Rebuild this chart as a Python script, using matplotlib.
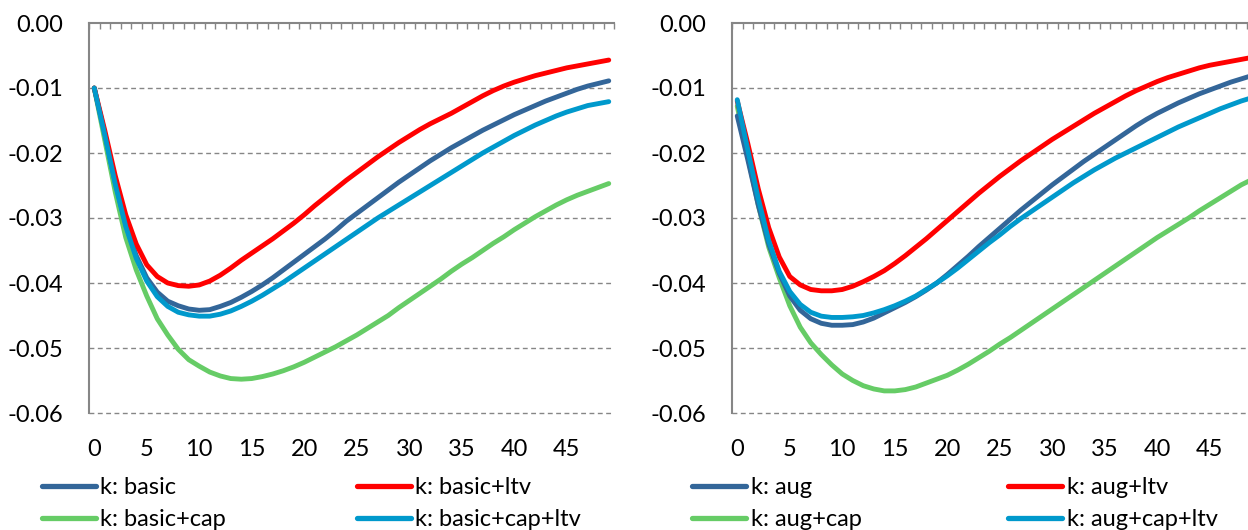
import numpy as np
import matplotlib
matplotlib.use("Agg")
import matplotlib.pyplot as plt
from matplotlib.lines import Line2D

plt.rcParams['font.family'] = ['Lato', 'DejaVu Sans']

# Horizon (periods)
periods = list(range(50))

# Left panel: basic model variants
basic = [-0.0100, -0.0170, -0.0245, -0.0310, -0.0358, -0.0392, -0.0414, -0.0428, -0.0435, -0.0440,
         -0.0442, -0.0441, -0.0436, -0.0430, -0.0422, -0.0413, -0.0403, -0.0392, -0.0380, -0.0368,
         -0.0356, -0.0344, -0.0332, -0.0319, -0.0305, -0.0293, -0.0281, -0.0269, -0.0257, -0.0245,
         -0.0234, -0.0223, -0.0212, -0.0202, -0.0192, -0.0183, -0.0174, -0.0165, -0.0157, -0.0149,
         -0.0141, -0.0134, -0.0127, -0.0120, -0.0114, -0.0108, -0.0102, -0.0097, -0.0093, -0.0089]
basic_ltv = [-0.0100, -0.0165, -0.0235, -0.0295, -0.0340, -0.0372, -0.0390, -0.0400, -0.0404, -0.0405,
             -0.0403, -0.0397, -0.0388, -0.0377, -0.0365, -0.0354, -0.0343, -0.0332, -0.0320, -0.0308,
             -0.0295, -0.0281, -0.0268, -0.0255, -0.0242, -0.0230, -0.0218, -0.0206, -0.0195, -0.0184,
             -0.0174, -0.0164, -0.0155, -0.0147, -0.0139, -0.0130, -0.0121, -0.0112, -0.0104, -0.0097,
             -0.0091, -0.0086, -0.0081, -0.0077, -0.0073, -0.0069, -0.0066, -0.0063, -0.0060, -0.0057]
basic_cap = [-0.0100, -0.0180, -0.0260, -0.0330, -0.0380, -0.0420, -0.0455, -0.0480, -0.0502, -0.0518,
             -0.0528, -0.0537, -0.0543, -0.0547, -0.0548, -0.0547, -0.0544, -0.0540, -0.0535, -0.0529,
             -0.0522, -0.0514, -0.0506, -0.0498, -0.0489, -0.0480, -0.0470, -0.0460, -0.0450, -0.0438,
             -0.0427, -0.0416, -0.0405, -0.0394, -0.0382, -0.0371, -0.0361, -0.0350, -0.0339, -0.0329,
             -0.0318, -0.0308, -0.0298, -0.0289, -0.0280, -0.0272, -0.0265, -0.0259, -0.0253, -0.0247]
basic_cap_ltv = [-0.0100, -0.0172, -0.0248, -0.0313, -0.0362, -0.0397, -0.0421, -0.0436, -0.0445, -0.0449,
                 -0.0451, -0.0451, -0.0448, -0.0443, -0.0436, -0.0428, -0.0419, -0.0409, -0.0399, -0.0388,
                 -0.0377, -0.0366, -0.0355, -0.0344, -0.0333, -0.0322, -0.0311, -0.0300, -0.0290, -0.0280,
                 -0.0270, -0.0260, -0.0250, -0.0240, -0.0230, -0.0220, -0.0210, -0.0200, -0.0191, -0.0182,
                 -0.0173, -0.0165, -0.0157, -0.0150, -0.0143, -0.0137, -0.0132, -0.0127, -0.0124, -0.0121]

# Right panel: augmented model variants
aug = [-0.0143, -0.0210, -0.0280, -0.0340, -0.0385, -0.0420, -0.0442, -0.0455, -0.0462, -0.0465,
       -0.0465, -0.0464, -0.0460, -0.0454, -0.0446, -0.0438, -0.0430, -0.0421, -0.0411, -0.0400,
       -0.0387, -0.0373, -0.0359, -0.0344, -0.0330, -0.0316, -0.0302, -0.0288, -0.0275, -0.0262,
       -0.0249, -0.0237, -0.0225, -0.0213, -0.0202, -0.0191, -0.0180, -0.0169, -0.0158, -0.0148,
       -0.0139, -0.0131, -0.0123, -0.0116, -0.0109, -0.0103, -0.0097, -0.0091, -0.0086, -0.0081]
aug_ltv = [-0.0120, -0.0185, -0.0255, -0.0315, -0.0360, -0.0390, -0.0403, -0.0410, -0.0412, -0.0412,
           -0.0410, -0.0405, -0.0398, -0.0390, -0.0381, -0.0370, -0.0358, -0.0345, -0.0332, -0.0318,
           -0.0304, -0.0290, -0.0276, -0.0262, -0.0249, -0.0236, -0.0224, -0.0212, -0.0201, -0.0190,
           -0.0179, -0.0169, -0.0159, -0.0149, -0.0139, -0.0130, -0.0121, -0.0112, -0.0104, -0.0097,
           -0.0090, -0.0084, -0.0079, -0.0074, -0.0069, -0.0065, -0.0062, -0.0059, -0.0056, -0.0053]
aug_cap = [-0.0128, -0.0205, -0.0280, -0.0345, -0.0392, -0.0435, -0.0468, -0.0492, -0.0510, -0.0526,
           -0.0540, -0.0550, -0.0558, -0.0563, -0.0566, -0.0566, -0.0564, -0.0560, -0.0554, -0.0548,
           -0.0542, -0.0534, -0.0525, -0.0515, -0.0505, -0.0494, -0.0484, -0.0473, -0.0462, -0.0451,
           -0.0440, -0.0429, -0.0418, -0.0407, -0.0396, -0.0385, -0.0374, -0.0363, -0.0352, -0.0341,
           -0.0330, -0.0320, -0.0310, -0.0300, -0.0289, -0.0279, -0.0269, -0.0259, -0.0249, -0.0241]
aug_cap_ltv = [-0.0118, -0.0195, -0.0270, -0.0335, -0.0382, -0.0413, -0.0433, -0.0445, -0.0451, -0.0453,
               -0.0453, -0.0452, -0.0450, -0.0446, -0.0441, -0.0435, -0.0428, -0.0420, -0.0410, -0.0400,
               -0.0389, -0.0377, -0.0364, -0.0351, -0.0338, -0.0326, -0.0313, -0.0301, -0.0290, -0.0279,
               -0.0268, -0.0257, -0.0246, -0.0236, -0.0226, -0.0217, -0.0208, -0.0200, -0.0192, -0.0184,
               -0.0176, -0.0168, -0.0160, -0.0153, -0.0146, -0.0139, -0.0132, -0.0126, -0.0120, -0.0115]

left_names = ["k: basic", "k: basic+ltv", "k: basic+cap", "k: basic+cap+ltv"]
right_names = ["k: aug", "k: aug+ltv", "k: aug+cap", "k: aug+cap+ltv"]
colors = ["#336699", "#FF0000", "#66CC66", "#0099CC"]

y_ticks = [0.0, -0.01, -0.02, -0.03, -0.04, -0.05, -0.06]
x_ticks = list(range(0, 50, 5))

W, H = 1248, 530
fig = plt.figure(figsize=(W / 100, H / 100), dpi=100)
AX_GRAY = "#868686"
FS = 17
LW = 3.5


def style_axes(ax):
    ax.set_xlim(-0.5, len(periods) - 0.5)
    ax.set_ylim(-0.06, 0.0)
    ax.set_yticks(y_ticks)
    ax.set_yticklabels([f"{v:.2f}".replace("-0.00", "0.00") for v in y_ticks])
    ax.set_xticks(x_ticks)
    ax.set_xticklabels([str(v) for v in x_ticks])
    ax.set_xticks(np.arange(-0.5, len(periods), 1.0), minor=True)
    ax.tick_params(axis='y', length=0, pad=18.5, labelsize=FS)
    ax.tick_params(axis='x', which='major', length=0, pad=18.5, labelsize=FS)
    ax.tick_params(axis='x', which='minor', bottom=False, top=True, direction='in',
                   length=4.5, width=1.0, color=AX_GRAY)
    for side in ("bottom", "right"):
        ax.spines[side].set_visible(False)
    for side in ("left", "top"):
        ax.spines[side].set_color(AX_GRAY)
        ax.spines[side].set_linewidth(1.5)
    for v in y_ticks[1:]:
        ax.axhline(v, color=AX_GRAY, lw=1.0, ls=(0, (3.5, 2.5)), zorder=1, clip_on=False)


def legend(names, x_cols, label_gap, rows):
    order = [(0, 0), (0, 1), (1, 0), (1, 1)]
    for name, col, (r, c) in zip(names, colors, order):
        x0 = x_cols[c]
        y = rows[r]
        fig.add_artist(Line2D([x0 / W, (x0 + 54) / W], [1 - y / H, 1 - y / H],
                              transform=fig.transFigure, color=col, lw=3.8,
                              solid_capstyle='round'))
        fig.text((x0 + 54 + label_gap) / W, 1 - y / H, name, fontsize=FS,
                 va='center_baseline', ha='left')


ax_h = 390 / H
ax_b = 1 - 413 / H
ax_w = 525 / W
ax1 = fig.add_axes([89 / W, ax_b, ax_w, ax_h])
ax2 = fig.add_axes([732 / W, ax_b, ax_w, ax_h])

for ax, series in ((ax1, [basic, basic_ltv, basic_cap, basic_cap_ltv]),
                   (ax2, [aug, aug_ltv, aug_cap, aug_cap_ltv])):
    style_axes(ax)
    # draw order: green, blue, red, cyan
    for idx in (2, 0, 1, 3):
        ax.plot(periods, series[idx], color=colors[idx], lw=LW, solid_capstyle='round',
                solid_joinstyle='round', zorder=3)

legend(left_names, [42, 357], 4, [486, 518])
legend(right_names, [692, 1008], 5, [486, 518])

fig.savefig("out.png", dpi=100)
